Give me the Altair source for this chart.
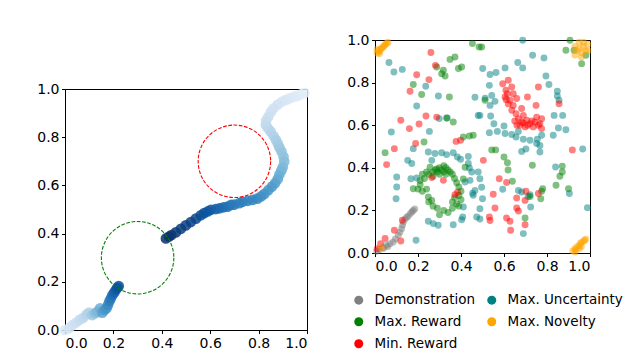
import altair as alt
import pandas as pd

# ---------------- left panel: trajectory ----------------
traj_x = [0.00, 0.017, 0.03, 0.045, 0.06, 0.075, 0.09, 0.10, 0.113, 0.125, 0.134, 0.145, 0.154, 0.163,
          0.172, 0.178, 0.184, 0.19, 0.196, 0.203, 0.21, 0.216, 0.222,
          0.417, 0.43, 0.44, 0.458, 0.479, 0.499, 0.52, 0.541, 0.561, 0.575, 0.59, 0.603, 0.623, 0.638,
          0.655, 0.672, 0.686, 0.699, 0.72, 0.734, 0.755, 0.775, 0.795, 0.81, 0.824, 0.84, 0.855, 0.868,
          0.879, 0.886, 0.894, 0.9, 0.906, 0.903, 0.895, 0.886, 0.88, 0.872, 0.862, 0.85, 0.838, 0.83,
          0.831, 0.84, 0.851, 0.862, 0.879, 0.896, 0.913, 0.93, 0.948, 0.962, 0.975, 0.989]
traj_y = [0.00, 0.007, 0.02, 0.03, 0.042, 0.05, 0.065, 0.072, 0.062, 0.07, 0.076, 0.09, 0.072, 0.083,
          0.09, 0.105, 0.12, 0.132, 0.145, 0.155, 0.166, 0.175, 0.182,
          0.38, 0.388, 0.394, 0.405, 0.42, 0.434, 0.448, 0.462, 0.476, 0.485, 0.492, 0.499, 0.502, 0.505,
          0.509, 0.512, 0.519, 0.52, 0.526, 0.532, 0.536, 0.54, 0.545, 0.554, 0.565, 0.58, 0.595, 0.609,
          0.626, 0.645, 0.662, 0.676, 0.699, 0.719, 0.74, 0.757, 0.772, 0.788, 0.805, 0.823, 0.838, 0.851,
          0.868, 0.885, 0.905, 0.92, 0.935, 0.947, 0.955, 0.962, 0.968, 0.972, 0.978, 0.983]
traj_c = [0.15, 0.18, 0.2, 0.22, 0.25, 0.28, 0.3, 0.32, 0.38, 0.42, 0.46, 0.5, 0.55, 0.6,
          0.62, 0.66, 0.7, 0.72, 0.76, 0.8, 0.83, 0.86, 0.88,
          1.0, 1.0, 0.99, 0.97, 0.95, 0.94, 0.93, 0.92, 0.9, 0.88, 0.86, 0.85, 0.82, 0.8,
          0.78, 0.76, 0.74, 0.72, 0.71, 0.7, 0.69, 0.68, 0.67, 0.65, 0.63, 0.62, 0.6, 0.58,
          0.55, 0.52, 0.5, 0.47, 0.45, 0.43, 0.41, 0.4, 0.38, 0.36, 0.34, 0.32, 0.3, 0.28,
          0.26, 0.24, 0.22, 0.21, 0.2, 0.18, 0.17, 0.16, 0.14, 0.13, 0.12, 0.11]

circle_x = [0.7, 0.3]
circle_y = [0.7, 0.3]
circle_color = ["#ff0000", "#008000"]

blues = ["#f7fbff", "#deebf7", "#c6dbef", "#9ecae1", "#6baed6",
         "#4292c6", "#2171b5", "#08519c", "#08306b"]
blues_dom = [0, 0.125, 0.25, 0.375, 0.5, 0.625, 0.75, 0.875, 1.0]

tick_vals = [0.0, 0.2, 0.4, 0.6, 0.8, 1.0]

# ---------------- right panel: scatter ----------------
demo_x = [0.008, 0.02, 0.035, 0.054, 0.07, 0.085, 0.095, 0.108, 0.116, 0.124, 0.128, 0.132, 0.14,
          0.148, 0.155, 0.165, 0.172, 0.178, 0.185, 0.04, 0.06]
demo_y = [0.008, 0.015, 0.025, 0.036, 0.044, 0.052, 0.066, 0.083, 0.098, 0.114, 0.13, 0.146, 0.16,
          0.168, 0.174, 0.186, 0.194, 0.2, 0.207, 0.022, 0.03]

unc_x = [0.065, 0.088, 0.127, 0.236, 0.295, 0.194, 0.299, 0.336, 0.076, 0.253, 0.48,
         0.687, 0.733, 0.786, 0.501, 0.563, 0.605, 0.535, 0.664, 0.687, 0.795, 0.809, 0.848, 0.848,
         0.856, 0.532, 0.543, 0.558, 0.535, 0.488, 0.538, 0.553, 0.532, 0.569, 0.6, 0.605, 0.636,
         0.656, 0.667, 0.69, 0.721, 0.755, 0.775, 0.829, 0.833, 0.873, 0.853, 0.888, 0.752, 0.465, 0.512,
         0.178, 0.248, 0.279, 0.31, 0.333, 0.364, 0.383, 0.398, 0.434, 0.439, 0.264, 0.152, 0.171,
         0.101, 0.101, 0.098, 0.167, 0.194, 0.419, 0.442, 0.465, 0.457, 0.408, 0.364, 0.248, 0.271,
         0.294, 0.191, 0.473, 0.488, 0.434, 0.45, 0.48, 0.496, 0.454, 0.5, 0.411, 0.403,
         0.682, 0.702, 0.767, 0.767, 0.966, 0.84, 0.904, 0.594, 0.667, 0.682, 0.721, 0.724, 0.69,
         0.988, 0.488, 0.488, 0.712]
unc_y = [0.894, 0.85, 0.862, 0.783, 0.737, 0.69, 0.631, 0.634, 0.568, 0.571, 0.646,
         0.999, 0.928, 0.916, 0.866, 0.847, 0.869, 0.838, 0.894, 0.869, 0.831, 0.791, 0.759, 0.737,
         0.717, 0.787, 0.74, 0.712, 0.693, 0.646, 0.643, 0.607, 0.565, 0.571, 0.596, 0.561, 0.556,
         0.545, 0.571, 0.534, 0.529, 0.534, 0.553, 0.553, 0.646, 0.646, 0.587, 0.579, 0.514, 0.731, 0.727,
         0.49, 0.474, 0.467, 0.471, 0.462, 0.471, 0.451, 0.44, 0.42, 0.399, 0.435, 0.435, 0.42,
         0.357, 0.31, 0.255, 0.349, 0.352, 0.333, 0.341, 0.294, 0.271, 0.169, 0.133, 0.149, 0.138,
         0.13, 0.06, 0.169, 0.208, 0.453, 0.38, 0.38, 0.309, 0.281, 0.255, 0.216, 0.156,
         0.477, 0.488, 0.474, 0.505, 0.488, 0.404, 0.279, 0.299, 0.294, 0.286, 0.274, 0.216, 0.091,
         0.213, 0.16, 0.349, 0.265]

rew_x = [0.453, 0.484, 0.349, 0.372, 0.287, 0.318, 0.326, 0.31, 0.388, 0.403, 0.178, 0.217, 0.346,
         0.333, 0.364, 0.411, 0.439, 0.457, 0.228, 0.496, 0.907, 0.888, 0.926, 0.961, 0.981, 0.512, 0.047,
         0.22, 0.24, 0.25, 0.27, 0.28, 0.29, 0.3, 0.31, 0.32, 0.33, 0.34, 0.35, 0.36, 0.33, 0.27, 0.3,
         0.32, 0.37, 0.38, 0.39, 0.4, 0.39, 0.4, 0.38, 0.39, 0.37, 0.36, 0.34, 0.32, 0.3, 0.29, 0.27,
         0.25, 0.22, 0.2, 0.21, 0.23, 0.24, 0.21, 0.178, 0.248, 0.264, 0.256, 0.287, 0.419, 0.411,
         0.543, 0.561, 0.6, 0.616, 0.619, 0.732, 0.871, 0.871, 0.86, 0.842, 0.9, 0.639, 0.721, 0.775,
         0.78, 0.771, 0.698, 0.36]
rew_y = [0.983, 0.967, 0.909, 0.92, 0.873, 0.858, 0.831, 0.842, 0.866, 0.873, 0.791, 0.744, 0.732,
         0.634, 0.615, 0.545, 0.549, 0.553, 0.521, 0.967, 0.999, 0.952, 0.952, 0.889, 0.928, 0.717, 0.471,
         0.37, 0.38, 0.37, 0.38, 0.39, 0.38, 0.4, 0.39, 0.38, 0.4, 0.39, 0.38, 0.37, 0.37, 0.36, 0.37,
         0.41, 0.35, 0.33, 0.31, 0.29, 0.27, 0.25, 0.23, 0.22, 0.26, 0.21, 0.19, 0.2, 0.18, 0.21, 0.22,
         0.24, 0.29, 0.3, 0.32, 0.35, 0.3, 0.34, 0.302, 0.263, 0.247, 0.403, 0.395, 0.403, 0.348,
         0.484, 0.484, 0.451, 0.424, 0.39, 0.412, 0.408, 0.38, 0.36, 0.318, 0.302, 0.337, 0.265, 0.29,
         0.302, 0.255, 0.164, 0.24]

minr_x = [0.594, 0.62, 0.609, 0.636, 0.605, 0.628, 0.643, 0.636, 0.656, 0.667, 0.682, 0.706, 0.721,
          0.744, 0.767, 0.674, 0.698, 0.736, 0.775, 0.752, 0.749, 0.76, 0.709, 0.682, 0.856, 0.659,
          0.615, 0.643, 0.69, 0.775, 0.62, 0.65, 0.71, 0.73, 0.66, 0.61, 0.76, 0.69,
          0.26, 0.281, 0.194, 0.251, 0.163, 0.237, 0.287, 0.12, 0.16, 0.205, 0.189, 0.377, 0.398,
          0.09, 0.054, 0.264, 0.318, 0.372, 0.384, 0.127, 0.09, 0.047, 0.026, 0.12, 0.01,
          0.918, 0.504, 0.578, 0.612, 0.55, 0.702, 0.659, 0.698, 0.76, 0.558, 0.659, 0.667, 0.532,
          0.535, 0.612, 0.628, 0.631, 0.698]
minr_y = [0.795, 0.811, 0.764, 0.779, 0.732, 0.717, 0.693, 0.67, 0.654, 0.631, 0.615, 0.623, 0.607,
          0.615, 0.607, 0.6, 0.592, 0.592, 0.584, 0.638, 0.693, 0.779, 0.732, 0.678, 0.701, 0.725,
          0.748, 0.748, 0.646, 0.63, 0.7, 0.62, 0.6, 0.62, 0.6, 0.72, 0.6, 0.61,
          0.941, 0.881, 0.837, 0.814, 0.759, 0.643, 0.638, 0.623, 0.584, 0.606, 0.514, 0.524, 0.529,
          0.49, 0.415, 0.354, 0.341, 0.274, 0.285, 0.154, 0.107, 0.068, 0.044, 0.056, 0.02,
          0.484, 0.435, 0.349, 0.331, 0.276, 0.29, 0.258, 0.247, 0.279, 0.211, 0.211, 0.197, 0.169,
          0.153, 0.164, 0.149, 0.107, 0.133]

nov_x = [0.01, 0.015, 0.02, 0.025, 0.03, 0.035, 0.04, 0.045, 0.05, 0.055, 0.06, 0.01, 0.02,
         0.93, 0.94, 0.95, 0.96, 0.97, 0.98, 0.95, 0.97, 0.99, 0.93, 0.96, 0.99,
         0.92, 0.93, 0.935, 0.94, 0.95, 0.955, 0.96, 0.97, 0.975, 0.98, 0.93, 0.96, 0.95,
         0.03]
nov_y = [0.94, 0.95, 0.945, 0.955, 0.96, 0.965, 0.97, 0.975, 0.98, 0.985, 0.99, 0.955, 0.935,
         0.97, 0.95, 0.96, 0.94, 0.97, 0.95, 0.99, 0.99, 0.98, 0.93, 0.92, 0.95,
         0.01, 0.02, 0.015, 0.03, 0.035, 0.045, 0.05, 0.055, 0.06, 0.065, 0.005, 0.03, 0.02,
         0.025]

# legend order (the legend fills column by column)
categories = ["Demonstration", "Max. Reward", "Min. Reward", "Max. Uncertainty", "Max. Novelty"]
cat_colors = ["#808080", "#008000", "#ff0000", "#008080", "#ffa500"]

# ---------------- build tables ----------------
traj_df = pd.DataFrame({"x": traj_x, "y": traj_y, "c": traj_c})
circ_df = pd.DataFrame({"x": circle_x, "y": circle_y, "col": circle_color})

frames = []
for name, xs, ys in [("Demonstration", demo_x, demo_y),
                     ("Max. Uncertainty", unc_x, unc_y),
                     ("Max. Reward", rew_x, rew_y),
                     ("Min. Reward", minr_x, minr_y),
                     ("Max. Novelty", nov_x, nov_y)]:
    frames.append(pd.DataFrame({"x": xs, "y": ys, "method": name}))
scat_df = pd.concat(frames, ignore_index=True)

FONT = "DejaVu Sans"


def axis():
    return alt.Axis(values=tick_vals, format=".1f", grid=False, tickSize=3.5,
                    labelPadding=2.5, title=None, labelFontSize=14, labelColor="black",
                    domainColor="black", tickColor="black", labelFont=FONT)


xs_left = alt.X("x:Q", scale=alt.Scale(domain=[0, 1], nice=False), axis=axis())
ys_left = alt.Y("y:Q", scale=alt.Scale(domain=[0, 1], nice=False), axis=axis())

traj = alt.Chart(traj_df).mark_circle(size=115, opacity=0.85).encode(
    x=xs_left, y=ys_left,
    color=alt.Color("c:Q", scale=alt.Scale(domain=blues_dom, range=blues), legend=None),
)

circles = alt.Chart(circ_df).mark_point(shape="circle", size=5250, filled=False,
                                        strokeWidth=1.1, strokeDash=[3.7, 1.6], opacity=1).encode(
    x=alt.X("x:Q", scale=alt.Scale(domain=[0, 1], nice=False)),
    y=alt.Y("y:Q", scale=alt.Scale(domain=[0, 1], nice=False)),
    stroke=alt.Stroke("col:N", scale=None),
)

left = alt.layer(traj, circles).properties(width=242, height=241)

# empty spacer above the left panel (no data marks drawn)
spacer = alt.Chart(pd.DataFrame({"a": [0]})).mark_point(opacity=0).encode(
    x=alt.value(0), y=alt.value(0)
).properties(width=242, height=40, view=alt.ViewConfig(stroke="transparent"))

left_col = alt.vconcat(spacer, left, spacing=0)

right = alt.Chart(scat_df).mark_circle(size=48, opacity=0.5).encode(
    x=alt.X("x:Q", scale=alt.Scale(domain=[0, 1], nice=False), axis=axis()),
    y=alt.Y("y:Q", scale=alt.Scale(domain=[0, 1], nice=False), axis=axis()),
    color=alt.Color("method:N", scale=alt.Scale(domain=categories, range=cat_colors),
                    legend=alt.Legend(title=None, orient="none", legendX=-23, legendY=253,
                                      columns=2, symbolType="circle", symbolSize=81,
                                      symbolOpacity=1, labelFontSize=13.5, labelFont=FONT,
                                      labelColor="black", labelOffset=9, columnPadding=9,
                                      rowPadding=7)),
).properties(width=215, height=213)

chart = alt.hconcat(left_col, right, spacing=35).properties(
    padding={"left": 28, "top": 24, "right": 0, "bottom": 0}
).configure_view(stroke="black", strokeWidth=1).configure_axis(
    domainWidth=1, tickWidth=1
)

chart.save("out.html", embed_options={"renderer": "svg", "actions": False})
